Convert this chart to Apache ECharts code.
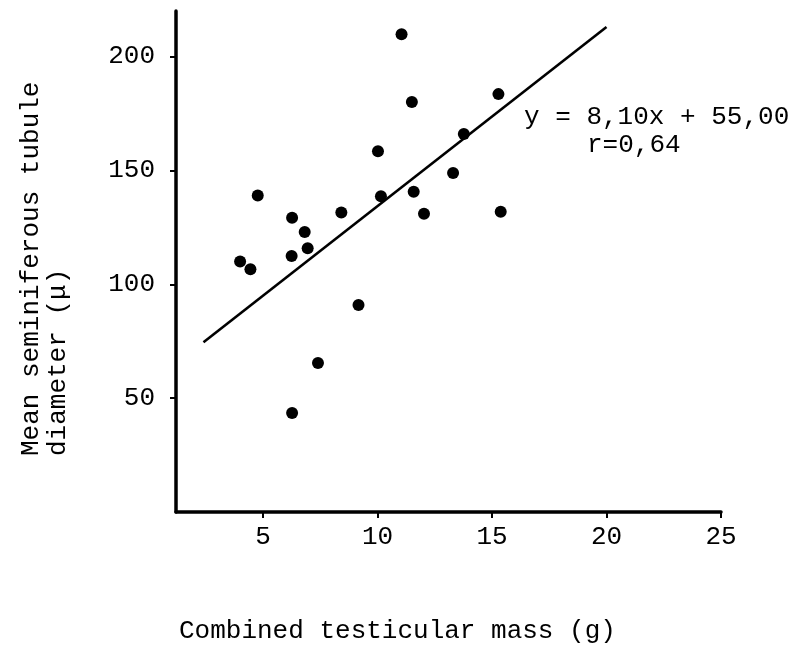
<!DOCTYPE html>
<html>
<head>
<meta charset="utf-8">
<script src="https://cdn.jsdelivr.net/npm/echarts@6/dist/echarts.min.js"></script>
<style>
  html, body { margin: 0; padding: 0; background: #fff; }
  #chart { width: 797px; height: 645px; }
</style>
</head>
<body>
<div id="chart"></div>
<script>
// Combined testicular mass (g)
const massG = [4.0, 4.45, 4.77, 6.27, 6.25, 6.82, 6.95, 6.27, 7.4, 8.42, 9.17,
               10.02, 10.15, 11.05, 11.5, 11.58, 12.03, 13.3, 13.77, 15.28, 15.38];
// Mean seminiferous tubule diameter (µ)
const diameter = [110, 106.6, 139, 129.2, 112.4, 123, 115.8, 43.5, 65.4, 131.5, 90.9,
                  158.4, 138.7, 209.8, 180, 140.6, 131, 148.9, 166, 183.5, 131.8];
// Regression line endpoints
const fitX = [2.4, 20.0];
const fitY = [74.5, 213];
const xTicks = [5, 10, 15, 20, 25];
const yTicks = [50, 100, 150, 200];
const xTitle = 'Combined testicular mass (g)';
const yTitleLines = ['Mean seminiferous tubule', 'diameter (\u03bc)'];
const eqLines = ['y = 8,10x + 55,00', 'r=0,64'];

const mono = '"Liberation Mono", "DejaVu Sans Mono", monospace';
const chart = echarts.init(document.getElementById('chart'));
chart.setOption({
  backgroundColor: '#fff',
  animation: false,
  grid: { left: 176, right: 76, top: 11, bottom: 133 },
  xAxis: {
    type: 'value', min: 1.2, max: 25,
    axisLine: { lineStyle: { color: '#000', width: 3.5 } },
    axisTick: { show: true, length: 6, customValues: xTicks, lineStyle: { color: '#000', width: 2 } },
    axisLabel: { customValues: xTicks, color: '#000', fontFamily: mono, fontSize: 26, margin: 12 },
    splitLine: { show: false }
  },
  yAxis: {
    type: 'value', min: 0, max: 220,
    axisLine: { show: true, lineStyle: { color: '#000', width: 3.5 } },
    axisTick: { show: true, length: 6, customValues: yTicks, lineStyle: { color: '#000', width: 2 } },
    axisLabel: { customValues: yTicks, color: '#000', fontFamily: mono, fontSize: 26, margin: 21 },
    splitLine: { show: false }
  },
  series: [
    {
      type: 'line',
      data: fitX.map((x, i) => [x, fitY[i]]),
      symbol: 'none',
      lineStyle: { color: '#000', width: 2.6 },
      z: 1
    },
    {
      type: 'scatter',
      data: massG.map((x, i) => [x, diameter[i]]),
      symbol: 'circle',
      symbolSize: 12,
      itemStyle: { color: '#000', opacity: 1 },
      z: 2
    }
  ],
  graphic: [
    { type: 'text', x: 179, y: 631, style: { text: xTitle, font: '26px ' + mono, fill: '#000', textAlign: 'left', textVerticalAlign: 'middle' } },
    { type: 'text', x: 31, y: 456, rotation: Math.PI / 2, style: { text: yTitleLines[0], font: '26px ' + mono, fill: '#000', textAlign: 'left', textVerticalAlign: 'middle' } },
    { type: 'text', x: 58, y: 456, rotation: Math.PI / 2, style: { text: yTitleLines[1], font: '26px ' + mono, fill: '#000', textAlign: 'left', textVerticalAlign: 'middle' } },
    { type: 'text', x: 524, y: 117, style: { text: eqLines[0], font: '26px ' + mono, fill: '#000', textAlign: 'left', textVerticalAlign: 'middle' } },
    { type: 'text', x: 587, y: 145, style: { text: eqLines[1], font: '26px ' + mono, fill: '#000', textAlign: 'left', textVerticalAlign: 'middle' } }
  ]
});
</script>
</body>
</html>
